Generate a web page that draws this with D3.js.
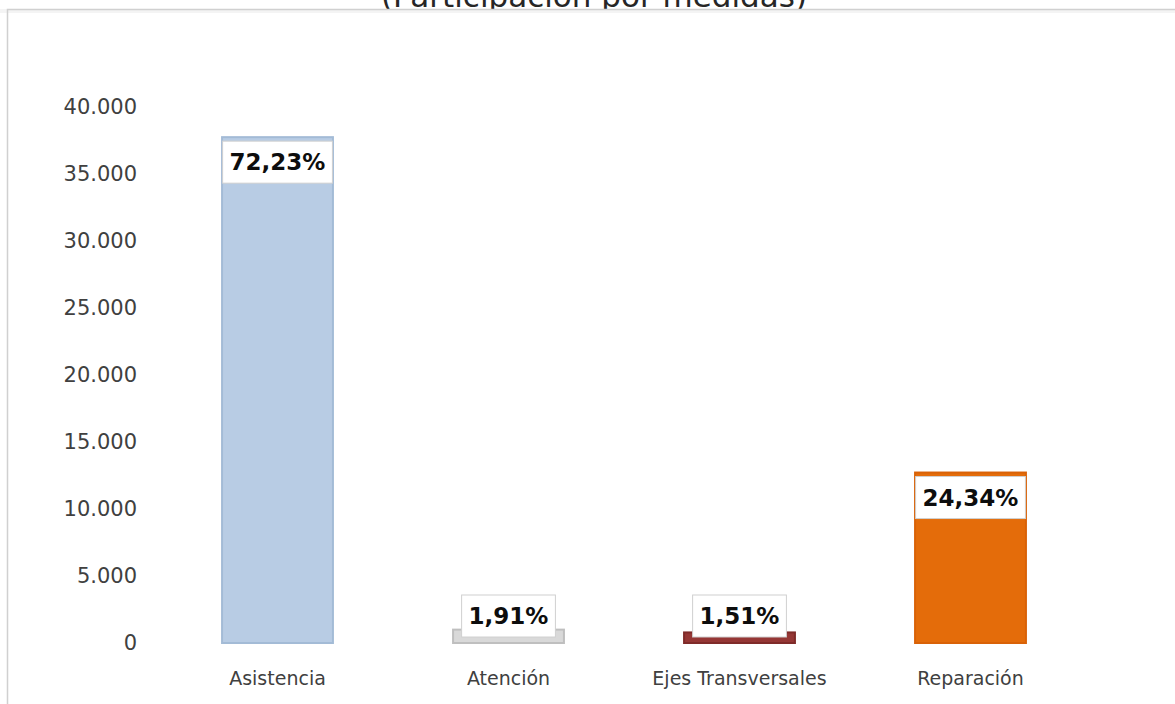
<!DOCTYPE html>
<html>
<head>
<meta charset="utf-8">
<script src="https://cdn.jsdelivr.net/npm/d3@7"></script>
<style>
  body { margin: 0; background: #fff; }
  svg { display: block; }
</style>
</head>
<body>
<script>
var width = 1175; // ancho del lienzo
var height = 704; // alto del lienzo

var categories = ["Asistencia", "Atención", "Ejes Transversales", "Reparación"],
  values = [37750, 998, 789, 12721],
  percentLabels = ["72,23%", "1,91%", "1,51%", "24,34%"],
  yTicks = [0, 5000, 10000, 15000, 20000, 25000, 30000, 35000, 40000],
  colorSet = ["#b8cce4", "#d9d9d9", "#953735", "#e46c0a"],
  strokeSet = ["#a3bbd6", "#bfbfbf", "#7f2b29", "#d96207"];

var svg = d3.select("body")
  .append("svg")
  .attr("width", width)
  .attr("height", height);

var locale = d3.formatLocale({ decimal: ",", thousands: ".", grouping: [3], currency: ["", ""] });
var fmt = locale.format(",d");

// escalas
var x = d3.scaleBand()
  .domain(categories)
  .range([162, 1086])
  .paddingInner(0.52)
  .paddingOuter(0.26);

var y = d3.scaleLinear()
  .domain([0, 40000])
  .range([643, 107]);

// título (cortado arriba, como en la imagen)
svg.append("text")
  .attr("x", 594)
  .attr("y", 7)
  .attr("text-anchor", "middle")
  .style("font-family", "DejaVu Sans")
  .style("font-size", "31px")
  .style("fill", "#262626")
  .text("(Participación por medidas)");

// marco
svg.append("rect")
  .attr("x", 0)
  .attr("y", 9)
  .attr("width", width)
  .attr("height", 4)
  .attr("fill", "#f4f4f4");
svg.append("path")
  .attr("d", "M7.5,704V9.5H1175")
  .attr("fill", "none")
  .attr("stroke", "#d0d0d0")
  .attr("stroke-width", 1.5);

// eje y
var axisY = d3.axisLeft(y)
  .tickValues(yTicks)
  .tickSize(0)
  .tickPadding(0)
  .tickFormat(function(d) { return fmt(d); });

var gy = svg.append("g")
  .attr("transform", "translate(137,0)")
  .call(axisY);
gy.select(".domain").remove();
gy.selectAll("text")
  .style("font-family", "DejaVu Sans")
  .style("font-size", "21px")
  .style("fill", "#404040");

// eje x
var axisX = d3.axisBottom(x).tickSize(0).tickPadding(29);
var gx = svg.append("g")
  .attr("transform", "translate(0,643)")
  .call(axisX);
gx.select(".domain").remove();
gx.selectAll("text")
  .style("font-family", "DejaVu Sans")
  .style("font-size", "19px")
  .style("fill", "#404040");

// barras
var bar = svg.selectAll(".bar")
  .data(values)
  .enter()
  .append("g")
  .attr("class", "bar");

bar.append("rect")
  .attr("x", function(d, i) { return x(categories[i]); })
  .attr("y", function(d) { return y(d); })
  .attr("width", x.bandwidth())
  .attr("height", function(d) { return y(0) - y(d); })
  .attr("fill", function(d, i) { return colorSet[i]; })
  .attr("stroke", function(d, i) { return strokeSet[i]; })
  .attr("stroke-width", 2);

// etiquetas de porcentaje
bar.each(function(d, i) {
  var g = d3.select(this);
  var cx = x(categories[i]) + x.bandwidth() / 2;
  var boxH = 42;
  var boxY = Math.min(y(d) + 4, y(0) - 6 - boxH);
  var box = g.append("rect")
    .attr("y", boxY)
    .attr("height", boxH)
    .attr("fill", "#fff")
    .attr("stroke", "#d0d0d0")
    .attr("stroke-width", 1);
  var t = g.append("text")
    .attr("x", cx)
    .attr("y", boxY + boxH / 2 + 8)
    .attr("text-anchor", "middle")
    .style("font-family", "DejaVu Sans")
    .style("font-weight", "bold")
    .style("font-size", "23px")
    .style("fill", "#0d0d0d")
    .text(percentLabels[i]);
  var w = t.node().getComputedTextLength() + 14;
  box.attr("x", cx - w / 2).attr("width", w);
});
</script>
</body>
</html>
